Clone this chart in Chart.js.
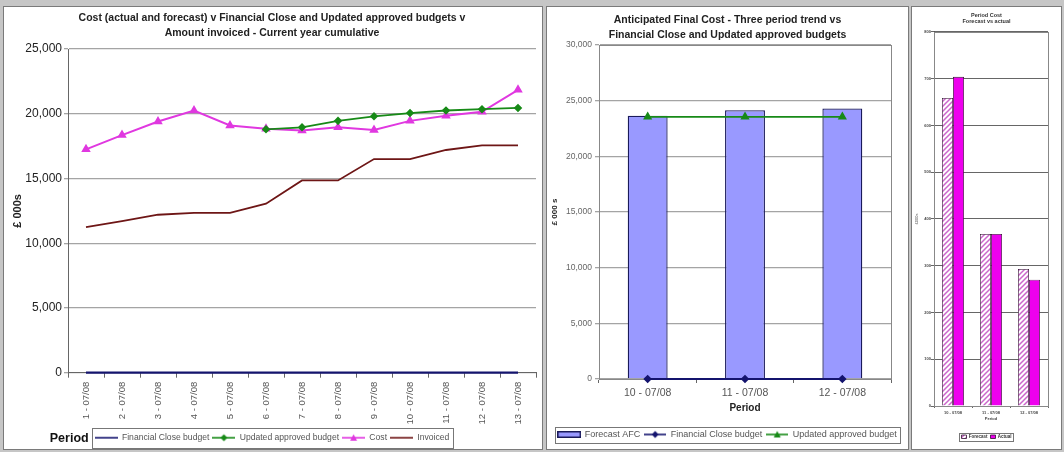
<!DOCTYPE html>
<html>
<head>
<meta charset="utf-8">
<script src="https://cdn.jsdelivr.net/npm/chart.js@4.4.1/dist/chart.umd.min.js"></script>
<style>
  body { margin: 0; width: 1064px; height: 452px; background: #c6c6c6; position: relative; overflow: hidden; }
  .panel { position: absolute; background: #fff; border: 1px solid #7a7a7a; box-sizing: border-box; overflow: hidden; }
  .panel canvas { position: absolute; left: 0; top: 0; }
</style>
</head>
<body>
<div class="panel" style="left:3px;top:6px;width:540px;height:444px"><canvas id="c1" width="538" height="445"></canvas></div>
<div class="panel" style="left:546px;top:6px;width:363px;height:444px"><canvas id="c2" width="361" height="442"></canvas></div>
<div class="panel" style="left:911px;top:6px;width:151px;height:444px"><canvas id="c3" width="149" height="442"></canvas></div>
<script>
// --- data: chart 1 (current year cumulative) ---
const periods = ['1 - 07/08', '2 - 07/08', '3 - 07/08', '4 - 07/08', '5 - 07/08', '6 - 07/08', '7 - 07/08',
  '8 - 07/08', '9 - 07/08', '10 - 07/08', '11 - 07/08', '12 - 07/08', '13 - 07/08'];
const financialClose = [0, 0, 0, 0, 0, 0, 0, 0, 0, 0, 0, 0, 0];
const updatedBudget = [null, null, null, null, null, 18800, 18950, 19450, 19800, 20050, 20250, 20350, 20450];
const cost = [17250, 18350, 19400, 20250, 19100, 18850, 18700, 18950, 18750, 19450, 19850, 20150, 21850];
const invoiced = [11250, 11700, 12200, 12350, 12350, 13050, 14850, 14850, 16500, 16500, 17200, 17550, 17550];
const yTicks1 = ['0', '5,000', '10,000', '15,000', '20,000', '25,000'];

// --- data: chart 2 (anticipated final cost) ---
const afcPeriods = ['10 - 07/08', '11 - 07/08', '12 - 07/08'];
const forecastAfc = [23650, 24150, 24300];
const afcFinancialClose = [0, 0, 0];
const afcUpdatedBudget = [23550, 23550, 23550];
const yTicks2 = ['0', '5,000', '10,000', '15,000', '20,000', '25,000', '30,000'];

// --- data: chart 3 (period cost) ---
const periodForecast = [659, 368, 293];
const periodActual = [704, 368, 270];
const yTicks3 = ['0', '100', '200', '300', '400', '500', '600', '700', '800'];

Chart.defaults.font.family = "'Liberation Sans', Arial, sans-serif";

function lineIcon(color, marker, w) {
  const c = document.createElement('canvas');
  c.width = w; c.height = 10;
  const g = c.getContext('2d');
  g.strokeStyle = color; g.fillStyle = color; g.lineWidth = 1.6;
  g.beginPath(); g.moveTo(0, 5); g.lineTo(w, 5); g.stroke();
  const m = w / 2;
  if (marker === 'diamond') {
    g.beginPath(); g.moveTo(m, 1.5); g.lineTo(m + 3.5, 5); g.lineTo(m, 8.5); g.lineTo(m - 3.5, 5); g.closePath(); g.fill();
  } else if (marker === 'triangle') {
    g.beginPath(); g.moveTo(m, 1.5); g.lineTo(m + 3.5, 8); g.lineTo(m - 3.5, 8); g.closePath(); g.fill();
  }
  return c;
}

function boxIcon(fill, border, w, h) {
  const c = document.createElement('canvas');
  c.width = w; c.height = h;
  const g = c.getContext('2d');
  g.fillStyle = fill; g.fillRect(0, 0, w, h);
  g.strokeStyle = border; g.lineWidth = 1.5; g.strokeRect(0.75, 0.75, w - 1.5, h - 1.5);
  return c;
}

function iconLabels(icons) {
  return chart => {
    const items = Chart.defaults.plugins.legend.labels.generateLabels(chart);
    items.sort((a, b) => a.datasetIndex - b.datasetIndex);
    if (icons) items.forEach(it => { it.pointStyle = icons[it.datasetIndex]; it.rotation = 0; });
    return items;
  };
}

function hatch() {
  const c = document.createElement('canvas');
  c.width = 5; c.height = 5;
  const g = c.getContext('2d');
  g.fillStyle = '#fff'; g.fillRect(0, 0, 5, 5);
  g.strokeStyle = '#cc66cc'; g.lineWidth = 1.5;
  g.beginPath();
  g.moveTo(0, 5); g.lineTo(5, 0);
  g.moveTo(-1, 1); g.lineTo(1, -1);
  g.moveTo(4, 6); g.lineTo(6, 4);
  g.stroke();
  return g.createPattern(c, 'repeat');
}

// border round the legend, plus an optional label on its left
const legendBox = {
  id: 'legendBox',
  afterDraw(chart, args, opts) {
    const hb = chart.legend && chart.legend.legendHitBoxes;
    if (!hb || !hb.length) return;
    const ctx = chart.ctx;
    const l = Math.min(...hb.map(h => h.left)) - opts.padX;
    const r = Math.max(...hb.map(h => h.left + h.width)) + opts.padX;
    const t = hb[0].top - opts.padY;
    const b = hb[0].top + hb[0].height + opts.padY;
    ctx.save();
    ctx.strokeStyle = '#777';
    ctx.lineWidth = 1;
    ctx.strokeRect(Math.round(l) + 0.5, Math.round(t) + 0.5, Math.round(r - l), Math.round(b - t));
    if (opts.label) {
      ctx.font = opts.labelFont;
      ctx.fillStyle = '#111';
      ctx.textAlign = 'right';
      ctx.textBaseline = 'middle';
      ctx.fillText(opts.label, l - 3, (t + b) / 2 + 1);
    }
    ctx.restore();
  }
};

const frame = {
  id: 'frame',
  beforeDatasetsDraw(chart, args, opts) {
    const { left, top, right, bottom } = chart.chartArea;
    const ctx = chart.ctx;
    ctx.save();
    ctx.strokeStyle = opts.color || '#777';
    ctx.lineWidth = 1;
    ctx.strokeRect(Math.round(left) + 0.5, Math.round(top) + 0.5, Math.round(right - left), Math.round(bottom - top));
    ctx.restore();
  }
};

const spacer = w => ({
  position: 'right', display: true,
  ticks: { display: false }, grid: { display: false }, border: { display: false },
  afterFit(s) { s.width = w; }
});

// ---------- chart 1 ----------
new Chart(document.getElementById('c1'), {
  type: 'line',
  data: {
    labels: periods,
    datasets: [
      { label: 'Financial Close budget', data: financialClose, borderColor: '#14146e', borderWidth: 2.2, pointRadius: 0, clip: false },
      { label: 'Updated approved budget', data: updatedBudget, borderColor: '#178a17', backgroundColor: '#178a17', borderWidth: 1.8,
        pointStyle: 'rectRot', pointRadius: 3 },
      { label: 'Cost', data: cost, borderColor: '#e038e0', backgroundColor: '#e038e0', borderWidth: 2,
        pointStyle: 'triangle', pointRadius: 3.5 },
      { label: 'Invoiced', data: invoiced, borderColor: '#6e1616', borderWidth: 1.8, pointRadius: 0 }
    ]
  },
  options: {
    responsive: false,
    animation: false,
    layout: { padding: { left: 0, right: 2, top: 0, bottom: 0 } },
    plugins: {
      title: {
        display: true,
        text: ['Cost (actual and forecast) v Financial Close and Updated approved budgets v', 'Amount invoiced - Current year cumulative'],
        font: { size: 10.5, weight: 'bold', lineHeight: 1.45 },
        color: '#222',
        padding: { top: 3.4, bottom: 8.15 }
      },
      legend: {
        position: 'bottom',
        labels: {
          usePointStyle: true, pointStyleWidth: 23, font: { size: 8.6 }, color: '#555', padding: 3,
          generateLabels: iconLabels([lineIcon('#14146e', null, 23), lineIcon('#178a17', 'diamond', 23),
            lineIcon('#e038e0', 'triangle', 23), lineIcon('#6e1616', null, 23)])
        }
      },
      tooltip: { enabled: false },
      legendBox: { padX: 3, padY: 5.7, label: 'Period', labelFont: "bold 12.5px 'Liberation Sans', Arial" }
    },
    elements: { line: { tension: 0 } },
    scales: {
      x: {
        offset: true,
        grid: { offset: true, drawOnChartArea: false, tickLength: 5, color: '#666' },
        border: { color: '#666' },
        ticks: { minRotation: 90, maxRotation: 90, autoSkip: false, font: { size: 9.5 }, color: '#555', padding: 4 },
        afterFit(s) { s.height = 57.7; }
      },
      y: {
        min: 0, max: 25000,
        ticks: { stepSize: 5000, font: { size: 12 }, color: '#222', padding: 2, callback: v => yTicks1[v / 5000] },
        grid: { color: '#a4a4a4', lineWidth: 1.3, tickLength: 4 },
        border: { color: '#666' },
        title: { display: true, text: '£ 000s', font: { size: 11, weight: 'bold' }, color: '#222', padding: { top: 7.4, bottom: 0 } },
        afterFit(s) { s.width = 64; }
      }
    }
  },
  plugins: [legendBox]
});

// ---------- chart 2 ----------
new Chart(document.getElementById('c2'), {
  type: 'bar',
  data: {
    labels: afcPeriods,
    datasets: [
      { type: 'bar', label: 'Forecast AFC', data: forecastAfc, backgroundColor: '#9999ff', borderColor: '#1a1a5a', borderWidth: 1.3,
        categoryPercentage: 1, barPercentage: 0.41, order: 3 },
      { type: 'line', label: 'Financial Close budget', data: afcFinancialClose, borderColor: '#14146e', backgroundColor: '#14146e',
        borderWidth: 1.8, pointStyle: 'rectRot', pointRadius: 3, clip: false, order: 2 },
      { type: 'line', label: 'Updated approved budget', data: afcUpdatedBudget, borderColor: '#178a17', backgroundColor: '#178a17',
        borderWidth: 1.8, pointStyle: 'triangle', pointRadius: 3.5, order: 1 }
    ]
  },
  options: {
    responsive: false,
    animation: false,
    layout: { padding: 0 },
    plugins: {
      title: {
        display: true,
        text: ['Anticipated Final Cost - Three period trend vs', 'Financial Close and Updated approved budgets'],
        font: { size: 10.5, weight: 'bold', lineHeight: 1.45 },
        color: '#222',
        padding: { top: 5.4, bottom: 2.15 }
      },
      legend: {
        position: 'bottom',
        labels: {
          usePointStyle: true, pointStyleWidth: 22, font: { size: 9 }, color: '#555', padding: 4,
          generateLabels: iconLabels([boxIcon('#9999ff', '#1a1a5a', 24, 7), lineIcon('#14146e', 'diamond', 22),
            lineIcon('#178a17', 'triangle', 22)])
        }
      },
      tooltip: { enabled: false },
      legendBox: { padX: 3, padY: 3.5 },
      frame: { color: '#888' }
    },
    scales: {
      x: {
        grid: { drawOnChartArea: false, tickLength: 4, color: '#666' },
        border: { color: '#666' },
        ticks: { maxRotation: 0, font: { size: 10.5 }, color: '#555', padding: 3.7 },
        title: { display: true, text: 'Period', font: { size: 10, weight: 'bold' }, color: '#222', padding: { top: 0, bottom: 12 } },
        afterFit(s) { s.height = 47; }
      },
      y: {
        min: 0, max: 30000,
        ticks: { stepSize: 5000, font: { size: 8.5 }, color: '#666', padding: 3, callback: v => yTicks2[v / 5000] },
        grid: { color: '#a4a4a4', lineWidth: 1.3, tickLength: 4 },
        border: { color: '#666' },
        title: { display: true, text: '£ 000 s', font: { size: 8, weight: 'bold' }, color: '#222', padding: { top: 3.2, bottom: 0 } },
        afterFit(s) { s.width = 52; }
      },
      yR: spacer(17)
    }
  },
  plugins: [legendBox, frame]
});

// ---------- chart 3 ----------
new Chart(document.getElementById('c3'), {
  type: 'bar',
  data: {
    labels: afcPeriods,
    datasets: [
      { label: 'Forecast', data: periodForecast, backgroundColor: hatch(), borderColor: '#301030', borderWidth: 0.8,
        categoryPercentage: 0.58, barPercentage: 1 },
      { label: 'Actual', data: periodActual, backgroundColor: '#ee00ee', borderColor: '#301030', borderWidth: 0.8,
        categoryPercentage: 0.58, barPercentage: 1 }
    ]
  },
  options: {
    responsive: false,
    animation: false,
    layout: { padding: 0 },
    plugins: {
      title: {
        display: true,
        text: ['Period Cost', 'Forecast vs actual'],
        font: { size: 5.5, weight: 'bold', lineHeight: 1.1 },
        color: '#333',
        padding: { top: 5, bottom: 7.85 }
      },
      legend: {
        position: 'bottom',
        labels: { boxWidth: 5, boxHeight: 3.5, font: { size: 4.5, weight: 'bold' }, color: '#333', padding: 3,
          generateLabels: iconLabels(null) }
      },
      tooltip: { enabled: false },
      legendBox: { padX: 2, padY: 1.5 },
      frame: { color: '#888' }
    },
    scales: {
      x: {
        grid: { drawOnChartArea: false, tickLength: 2, color: '#666' },
        border: { color: '#555' },
        ticks: { maxRotation: 0, font: { size: 4, weight: 'bold' }, color: '#444', padding: 2.6 },
        title: { display: true, text: 'Period', font: { size: 4, weight: 'bold' }, color: '#444', padding: { top: 0, bottom: 10.1 } },
        afterFit(s) { s.height = 25.5; }
      },
      y: {
        min: 0, max: 800,
        ticks: { stepSize: 100, font: { size: 4, weight: 'bold' }, color: '#444', padding: 0, callback: v => yTicks3[v / 100] },
        grid: { color: '#666', lineWidth: 1, tickLength: 3 },
        border: { color: '#555' },
        title: { display: true, text: '£000s', font: { size: 4 }, color: '#444', padding: { top: 2.6, bottom: 0 } },
        afterFit(s) { s.width = 22; }
      },
      yR: spacer(13)
    }
  },
  plugins: [legendBox, frame]
});
</script>
</body>
</html>
